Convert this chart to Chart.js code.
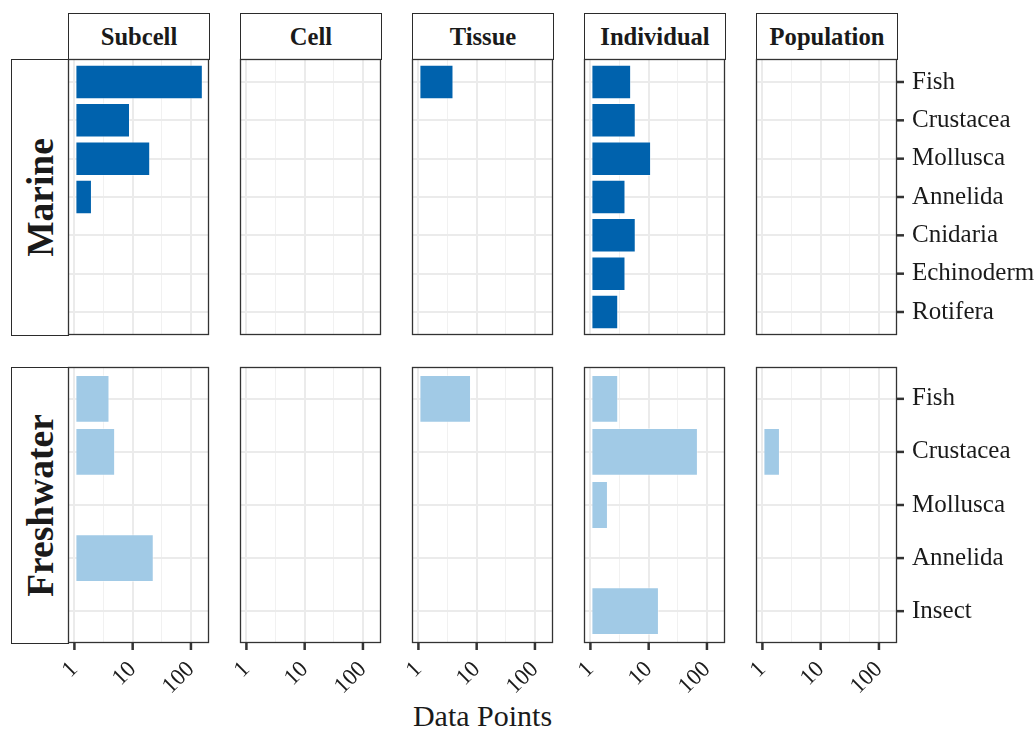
<!DOCTYPE html>
<html><head><meta charset="utf-8">
<script src="https://cdn.jsdelivr.net/npm/chart.js@4.4.1/dist/chart.umd.min.js"></script>
<style>
html,body{margin:0;padding:0;background:#fff;}
#wrap{position:relative;width:1035px;height:729px;overflow:hidden;font-family:"Liberation Serif","Times New Roman",serif;color:#1a1a1a;}
.strip{position:absolute;box-sizing:border-box;border:1px solid #2b2b2b;background:#fff;font-weight:bold;display:flex;align-items:center;justify-content:center;white-space:nowrap;}
.rot{display:inline-block;transform:rotate(-90deg);white-space:nowrap;}
canvas{position:absolute;}
.title{position:absolute;white-space:nowrap;}
</style></head>
<body><div id="wrap"></div>
<script>
// ---- data ----
const levels = ['Subcell', 'Cell', 'Tissue', 'Individual', 'Population'];
const habitats = ['Marine', 'Freshwater'];
const marineTaxa = ['Fish', 'Crustacea', 'Mollusca', 'Annelida', 'Cnidaria', 'Echinoderm', 'Rotifera'];
const freshwaterTaxa = ['Fish', 'Crustacea', 'Mollusca', 'Annelida', 'Insect'];
const marineSubcell    = [160, 9, 20, 2, null, null, null];
const marineCell       = [null, null, null, null, null, null, null];
const marineTissue     = [4, null, null, null, null, null, null];
const marineIndividual = [5, 6, 11, 4, 6, 4, 3];
const marinePopulation = [null, null, null, null, null, null, null];
const freshwaterSubcell    = [4, 5, null, 23, null];
const freshwaterCell       = [null, null, null, null, null];
const freshwaterTissue     = [8, null, null, null, null];
const freshwaterIndividual = [3, 70, 2, null, 15];
const freshwaterPopulation = [null, 2, null, null, null];
const xTickValues = [1, 10, 100];
const xTickLabels = ['1', '10', '100'];
const xMinorValues = [3.1623, 31.623];
const axisTitle = 'Data Points';

const series = [
  [marineSubcell, marineCell, marineTissue, marineIndividual, marinePopulation],
  [freshwaterSubcell, freshwaterCell, freshwaterTissue, freshwaterIndividual, freshwaterPopulation]
];
const taxa = [marineTaxa, freshwaterTaxa];

// ---- layout / style ----
const FONT = '"Liberation Serif","Times New Roman",serif';
const COLORS = ['#0062AD', '#A1CAE6'];
const COL_LEFT = [68, 240, 412, 584, 756];
const ROW_TOP = [59, 367];
const PW = 141, PH = 276;
const X_MIN = Math.pow(10, -0.11), X_MAX = Math.pow(10, 2.31);
const TICK_LEN_X = 7, TICK_LEN_Y = 7, TICK_W = 2.5;
const wrap = document.getElementById('wrap');

// strips
levels.forEach((lv, c) => {
  const d = document.createElement('div');
  d.className = 'strip';
  Object.assign(d.style, {left: COL_LEFT[c] + 'px', top: '13px', width: (PW + 1) + 'px', height: '47px', fontSize: '24.6px'});
  d.textContent = lv;
  wrap.appendChild(d);
});
habitats.forEach((h, r) => {
  const d = document.createElement('div');
  d.className = 'strip';
  Object.assign(d.style, {left: '11px', top: ROW_TOP[r] + 'px', width: '58px', height: (PH + 1) + 'px', fontSize: '37.5px'});
  const s = document.createElement('span');
  s.className = 'rot';
  s.textContent = h;
  d.appendChild(s);
  wrap.appendChild(d);
});
const t = document.createElement('div');
t.className = 'title';
t.textContent = axisTitle;
Object.assign(t.style, {left: '0px', width: '965px', textAlign: 'center', top: '701px', fontSize: '30px', lineHeight: '30px'});
wrap.appendChild(t);

const isMajor = v => xTickValues.some(m => Math.abs(m - v) < 1e-6);

function makeBorderPlugin(bottom, right) {
  return {
    id: 'panelBorder',
    afterDraw(chart) {
      const a = chart.chartArea, ctx = chart.ctx;
      ctx.save();
      ctx.fillStyle = '#333333';
      if (bottom) {
        xTickValues.forEach(v => {
          const px = chart.scales.x.getPixelForValue(v);
          ctx.fillRect(px - TICK_W / 2, a.bottom, TICK_W, TICK_LEN_X);
        });
      }
      if (right) {
        chart.scales.y.ticks.forEach(tk => {
          const py = chart.scales.y.getPixelForValue(tk.value);
          ctx.fillRect(a.right, py - TICK_W / 2, TICK_LEN_Y, TICK_W);
        });
      }
      ctx.strokeStyle = '#333333';
      ctx.lineWidth = 1.3;
      ctx.strokeRect(a.left + 0.5, a.top + 0.5, a.right - a.left - 1, a.bottom - a.top - 1);
      ctx.restore();
    }
  };
}

function panel(r, c) {
  const cats = taxa[r];
  const vals = series[r][c];
  const bottom = r === 1, right = c === 4;
  const padL = 30, padT = 4, padR = 2, padB = 4;
  const axisH = bottom ? 70 : 0, axisW = right ? 140 : 0;
  const W = PW + padL + padR + axisW, H = PH + padT + padB + axisH;
  const cv = document.createElement('canvas');
  cv.width = W; cv.height = H;
  Object.assign(cv.style, {left: (COL_LEFT[c] - padL) + 'px', top: (ROW_TOP[r] - padT) + 'px', width: W + 'px', height: H + 'px'});
  wrap.appendChild(cv);
  const data = vals.map((v, i) => ({x: v, y: i})).filter(d => d.x !== null);
  new Chart(cv, {
    type: 'bar',
    data: {datasets: [{
      data, base: 1, backgroundColor: COLORS[r],
      borderColor: 'rgba(255,255,255,0.45)', borderWidth: 1, borderSkipped: false,
      barPercentage: 0.9, categoryPercentage: 1
    }]},
    options: {
      indexAxis: 'y', responsive: false, animation: false, devicePixelRatio: 1, events: [],
      layout: {padding: {left: padL, right: padR, top: padT, bottom: padB}},
      plugins: {legend: {display: false}, tooltip: {enabled: false}},
      scales: {
        x: {
          type: 'logarithmic', position: 'bottom', min: X_MIN, max: X_MAX, bounds: 'data', offset: false,
          afterBuildTicks: s => { s.ticks = [xTickValues[0], xMinorValues[0], xTickValues[1], xMinorValues[1], xTickValues[2]].map(v => ({value: v})); },
          afterFit: s => { s.height = axisH; s.paddingLeft = 0; s.paddingRight = 0; },
          grid: {
            offset: false, drawTicks: false,
            color: ctx => (ctx.tick && isMajor(ctx.tick.value)) ? '#EBEBEB' : '#F1F1F1',
            lineWidth: ctx => (ctx.tick && isMajor(ctx.tick.value)) ? 2 : 1
          },
          border: {display: false},
          ticks: {
            display: bottom, autoSkip: false, minRotation: 45, maxRotation: 45, padding: TICK_LEN_X + 6,
            color: '#1a1a1a', font: {family: FONT, size: 23},
            callback: v => { const k = xTickValues.findIndex(m => Math.abs(m - v) < 1e-6); return k >= 0 ? xTickLabels[k] : ''; }
          }
        },
        y: {
          type: 'linear', position: right ? 'right' : 'left', min: -0.6, max: cats.length - 0.4,
          reverse: true, bounds: 'data', offset: false,
          afterBuildTicks: s => { s.ticks = cats.map((_, i) => ({value: i})); },
          afterFit: s => { s.width = axisW; s.paddingTop = 0; s.paddingBottom = 0; },
          grid: {offset: false, color: '#EBEBEB', lineWidth: 2, drawTicks: false},
          border: {display: false},
          ticks: {display: right, autoSkip: false, padding: TICK_LEN_Y + 8, color: '#1a1a1a', font: {family: FONT, size: 25}, callback: v => cats[v]}
        }
      }
    },
    plugins: [makeBorderPlugin(bottom, right)]
  });
}

for (let r = 0; r < 2; r++) for (let c = 0; c < 5; c++) panel(r, c);
</script>
</body></html>
